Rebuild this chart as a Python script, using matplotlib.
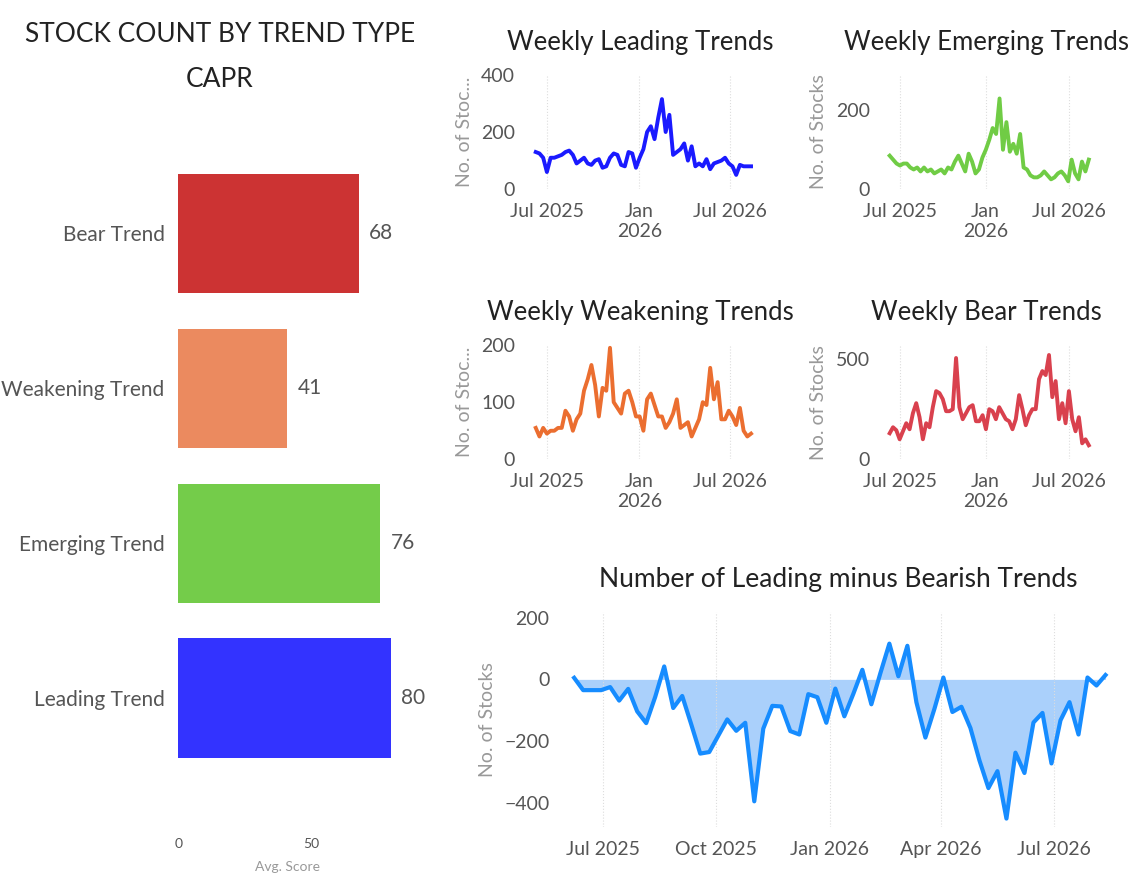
import numpy as np
import pandas as pd
import matplotlib.pyplot as plt

plt.rcParams['font.family'] = ['Lato', 'DejaVu Sans']

cats = ['Leading Trend', 'Emerging Trend', 'Weakening Trend', 'Bear Trend']
scores = [80, 76, 41, 68]
bar_colors = ['#3333ff', '#74cc4a', '#eb8a5f', '#cc3333']

leading = [130, 125, 110, 60, 110, 110, 115, 120, 130, 135, 120, 90, 100, 110, 90, 85, 100, 105, 75, 80,
           110, 125, 120, 85, 80, 130, 125, 75, 110, 140, 200, 220, 175, 250, 315, 200, 260, 120, 130, 140,
           160, 100, 150, 80, 90, 80, 105, 70, 90, 95, 100, 110, 90, 80, 50, 85, 80, 80, 80]
emerging = [85, 75, 65, 60, 65, 65, 55, 50, 55, 45, 55, 45, 50, 40, 45, 50, 40, 55, 50, 70,
            85, 65, 45, 90, 70, 40, 50, 80, 100, 125, 155, 140, 230, 100, 170, 95, 115, 90, 140, 55,
            50, 35, 30, 30, 35, 45, 35, 25, 30, 40, 45, 35, 20, 75, 40, 25, 70, 45, 75]
weakening = [55, 40, 55, 45, 50, 50, 55, 55, 85, 75, 50, 70, 80, 120, 140, 165, 130, 75, 125, 120,
             195, 100, 90, 80, 115, 120, 100, 75, 75, 50, 105, 115, 95, 75, 75, 55, 65, 80, 105, 55,
             60, 65, 40, 55, 70, 100, 95, 160, 105, 135, 70, 70, 85, 75, 60, 90, 50, 40, 45]
bear = [130, 160, 145, 100, 140, 180, 150, 230, 280, 210, 100, 180, 160, 260, 340, 330, 300, 240, 240, 250,
        505, 260, 200, 230, 260, 270, 190, 190, 220, 150, 250, 240, 200, 260, 230, 200, 190, 150, 200, 320,
        250, 170, 220, 250, 250, 400, 440, 420, 520, 310, 390, 200, 280, 180, 340, 200, 140, 210, 80, 100, 70]
net = [5, -35, -35, -35, -25, -69, -31, -104, -142, -57, 42, -93, -54, -146, -241, -236, -183, -130, -167, -141,
       -396, -160, -86, -88, -168, -179, -48, -58, -141, -30, -120, -47, 31, -81, 20, 116, 10, 109, -74, -189,
       -96, 6, -106, -89, -158, -263, -353, -298, -452, -238, -304, -140, -109, -273, -133, -74, -179, 6, -20, 14]

start = pd.Timestamp('2025-06-08')
end = pd.Timestamp('2026-08-12')

def dates(n):
    return pd.date_range(start, end, periods=n)

gray = '#555555'
lgray = '#999999'

fig = plt.figure(figsize=(11.44, 8.8), dpi=100)

# bar chart
ax = fig.add_axes([0.156, 0.057, 0.19, 0.81])
y = np.arange(len(cats))
ax.barh(y, scores, color=bar_colors, height=0.77)
for i, v in enumerate(scores):
    ax.text(v + 4, i, str(v), va='center', fontsize=15, color=gray)
ax.set_yticks(y)
ax.set_yticklabels(cats, fontsize=15, color=gray)
ax.set_xlim(0, 82)
ax.set_ylim(-0.85, 3.75)
ax.set_xticks([0, 50])
ax.tick_params(axis='x', labelsize=10, colors=gray, length=0, pad=6)
ax.tick_params(axis='y', length=0, pad=10)
ax.set_xlabel('Avg. Score', fontsize=10, color=lgray, labelpad=8)
for s in ax.spines.values():
    s.set_visible(False)
fig.text(0.192, 0.935, 'STOCK COUNT BY TREND TYPE\nCAPR', ha='center', va='center',
         fontsize=19, color='#222222', linespacing=2.0)

def style(ax, ylabel, ticks, yl):
    for s in ax.spines.values():
        s.set_visible(False)
    ax.set_yticks(ticks)
    ax.set_ylim(*yl)
    ax.tick_params(length=0, colors=gray, labelsize=14)
    ax.tick_params(axis='x', pad=10)
    ax.tick_params(axis='y', pad=8)
    ax.set_ylabel(ylabel, fontsize=14, color=lgray, labelpad=6)
    ax.grid(axis='x', linestyle=':', color='#dddddd')

def small(rect, data, color, title, ylabel, ticks, yl):
    a = fig.add_axes(rect)
    a.plot(dates(len(data)), data, color=color, lw=2.8)
    style(a, ylabel, ticks, yl)
    a.set_title(title, fontsize=18.5, color='#222222', pad=18)
    a.set_xticks([pd.Timestamp('2025-07-01'), pd.Timestamp('2026-01-01'), pd.Timestamp('2026-07-01')])
    a.set_xticklabels(['Jul 2025', 'Jan\n2026', 'Jul 2026'])
    a.set_xlim(pd.Timestamp('2025-05-20'), pd.Timestamp('2026-08-20'))
    return a

small([0.46, 0.785, 0.2, 0.13], leading, '#1a1aff', 'Weekly Leading Trends', 'No. of Stoc...', [0, 200, 400], (0, 400))
small([0.77, 0.785, 0.185, 0.13], emerging, '#70cc45', 'Weekly Emerging Trends', 'No. of Stocks', [0, 200], (0, 290))
small([0.46, 0.478, 0.2, 0.13], weakening, '#eb6e30', 'Weekly Weakening Trends', 'No. of Stoc...', [0, 100, 200], (0, 200))
small([0.77, 0.478, 0.185, 0.13], bear, '#d9414e', 'Weekly Bear Trends', 'No. of Stocks', [0, 500], (0, 570))

# net chart
b = fig.add_axes([0.49, 0.06, 0.485, 0.245])
d = dates(len(net))
b.fill_between(d, net, 0, color='#aad0fb', lw=0)
b.plot(d, net, color='#168cff', lw=3)
style(b, 'No. of Stocks', [-400, -200, 0, 200], (-480, 220))
b.set_title('Number of Leading minus Bearish Trends', fontsize=19, color='#222222', pad=18)
b.set_xticks([pd.Timestamp(x) for x in ['2025-07-01', '2025-10-01', '2026-01-01', '2026-04-01', '2026-07-01']])
b.set_xticklabels(['Jul 2025', 'Oct 2025', 'Jan 2026', 'Apr 2026', 'Jul 2026'])
b.set_xlim(pd.Timestamp('2025-05-28'), pd.Timestamp('2026-08-20'))

fig.savefig('out.png', dpi=100)
